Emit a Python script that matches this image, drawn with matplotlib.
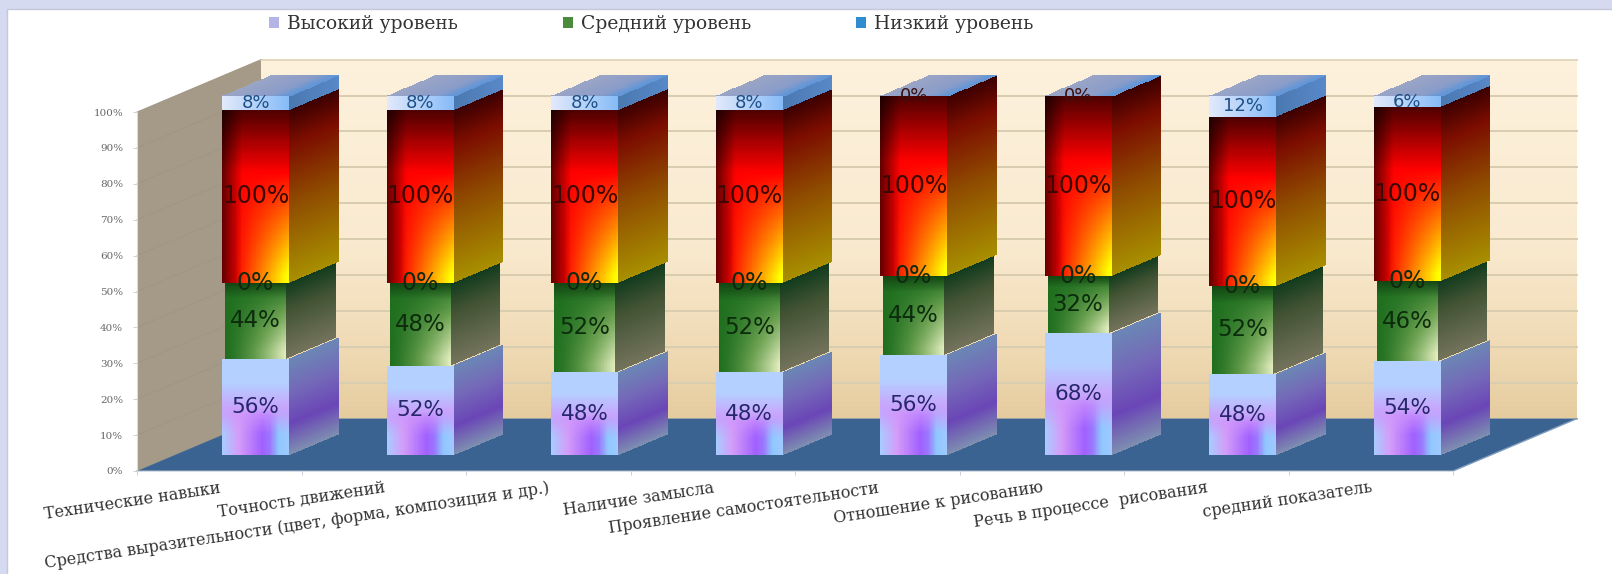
#!/usr/bin/env python3
import matplotlib
matplotlib.use("Agg")
import matplotlib.pyplot as plt
import numpy as np
from matplotlib.patches import Polygon, Rectangle

# chart data
categories = [
    "Технические навыки",
    "Точность движений",
    "Средства выразительности (цвет, форма, композиция и др.)",
    "Наличие замысла",
    "Проявление самостоятельности",
    "Отношение к рисованию",
    "Речь в процессе  рисования",
    "средний показатель",
]
high = [56, 52, 48, 48, 56, 68, 48, 54]
middle = [44, 48, 52, 52, 44, 32, 52, 46]
low = [0, 0, 0, 0, 0, 0, 0, 0]
red_part = [100, 100, 100, 100, 100, 100, 100, 100]
top_part = [8, 8, 8, 8, 0, 0, 12, 6]
legend_names = ["Высокий уровень", "Средний уровень", "Низкий уровень"]
y_ticks = [0, 10, 20, 30, 40, 50, 60, 70, 80, 90, 100]

W, H = 1612, 574
X0_PX, Y0_PX = 137, 471
CAT_PX, PCT_PX = 164.5, 3.59
DX, DY = 124 / CAT_PX, 52.4 / PCT_PX  # shift of the back wall in data units

BAR_LEFT, BAR_W = 0.292, 0.406
D_FRONT, D_BACK = 0.3, 0.7


def rgb(hexes):
    return np.array([matplotlib.colors.to_rgb(h) for h in hexes])


def ramp(t, stops, hexes):
    cols = rgb(hexes)
    return np.dstack([np.interp(t, stops, cols[:, k]) for k in range(3)])


def red_front(u, v):
    light = np.clip(0.3 + v / 0.36 * 0.7, 0, 1) * np.clip(0.38 + u / 0.3 * 0.62, 0, 1)
    g = np.clip((u - 0.2) / 0.8, 0, 1) * np.clip((v - 0.36) / 0.6, 0, 1)
    return np.dstack([light, np.clip(g * 1.05, 0, 1), np.zeros_like(u)])


def red_side(u, v):
    return ramp(v, [0, 0.2, 0.55, 1], ["#3a0000", "#7c0d00", "#8f4c00", "#a88f00"])


def green_front(u, v):
    t = np.clip(u, 0, 1) ** 1.4 * np.clip(v * 1.1, 0, 1) ** 1.0
    out = ramp(t, [0, 0.4, 1], ["#1f6f1f", "#6aa050", "#e4eec0"])
    return out * (0.62 + 0.38 * np.clip(v / 0.2, 0, 1))[..., None]


def green_side(u, v):
    return ramp(v, [0, 0.35, 1], ["#0f3a1c", "#3f5232", "#74735c"])


def purple_front(u, v):
    t = np.clip((v - 0.25) / 0.35, 0, 1)
    top = ramp(t, [0, 1], ["#b4d0ff", "#cf95fb"])
    stripes = ramp(u, [0, 0.25, 0.6, 0.72, 0.85, 1],
                   ["#a8ccff", "#d49cf8", "#a060ff", "#9a78ff", "#90c8ff", "#a0c8ff"])
    w = np.clip((v - 0.5) / 0.28, 0, 1)[..., None]
    return top * (1 - w) + stripes * w


def purple_side(u, v):
    return ramp(v, [0, 0.35, 0.68, 1], ["#6b87b5", "#7468b8", "#6a46b6", "#7e8fb0"])


def blue_front(u, v):
    return ramp(u, [0, 1], ["#e2e9fb", "#86bbf7"])


def blue_side(u, v):
    return ramp(u, [0, 1], ["#4a78b0", "#5888c8"])


def cap_top(u, v):
    return ramp(u, [0, 0.7, 1], ["#9aa5c6", "#8a9cc8", "#5f96d8"])


def wall_back(u, v):
    return ramp(v, [0, 0.5, 0.8, 1], ["#fdf1dc", "#f9ead0", "#efdab4", "#e5cb9e"])


def mesh(ax, x0, x1, y0, y1, d0, d1, shade, z, n=80):
    """Paint one face of the oblique box, shade(u, v) gives its colours."""
    uu, vv = np.meshgrid(np.linspace(0, 1, n + 1), np.linspace(0, 1, n + 1))
    x = x0 + (x1 - x0) * uu + (d0 + (d1 - d0) * uu) * DX
    y = y1 + (y0 - y1) * vv + (d0 + (d1 - d0) * uu) * DY
    uc, vc = np.meshgrid((np.arange(n) + 0.5) / n, (np.arange(n) + 0.5) / n)
    ax.pcolormesh(x, y, shade(uc, vc), shading="flat", zorder=z,
                  antialiased=False, linewidth=0, edgecolors="none")


def box(ax, x0, x1, y0, y1, front, side, z):
    if y1 <= y0:
        return
    mesh(ax, x0, x1, y0, y1, D_FRONT, D_FRONT, front, z)
    mesh(ax, x1, x1, y0, y1, D_FRONT, D_BACK, side, z)


fig = plt.figure(figsize=(W / 100, H / 100), dpi=100, facecolor="#d6daf0")
fig.patches.append(Rectangle((7 / W, -0.01), 1, 1.01 - 9 / H, transform=fig.transFigure,
                             facecolor="white", edgecolor="#c4c8d8", linewidth=1, zorder=-1))

ax = fig.add_axes([0, 0, 1, 1])
ax.patch.set_alpha(0)

# back wall, left wall and floor
mesh(ax, 0, 8, 0, 100, 1, 1, wall_back, 1, n=60)
wall_x = [0, DX, DX, 0]
wall_y = [0, DY, 100 + DY, 100]
ax.add_patch(Polygon(list(zip(wall_x, wall_y)), facecolor="#a59a87", edgecolor="none", zorder=1.1))
floor = [(0, 0), (8, 0), (8 + DX, DY), (DX, DY)]
ax.add_patch(Polygon(floor, facecolor="#3a6392", edgecolor="none", zorder=1.3))
ax.plot([0, 8, 8 + DX], [0, 0, DY], color="#7f9dbd", lw=1, zorder=1.35)

for t in y_ticks:
    ax.plot([DX, 8 + DX], [t + DY, t + DY], color="#e2d7bc" if t == 100 else "#d9cdb0", lw=1.4, zorder=1.2)
    ax.plot([0, DX], [t, t + DY], color="#9f9582", lw=0.6, zorder=1.2)

# bars, every column stacked to 100 %
for i in range(len(categories)):
    parts = [high[i], middle[i], low[i], red_part[i], top_part[i]]
    total = sum(parts)
    edges = np.cumsum([0] + parts) / total * 100
    x0, x1 = i + BAR_LEFT, i + BAR_LEFT + BAR_W
    inset = 0.018
    z = 3 + i * 0.1

    box(ax, x0 + inset, x1 - inset, edges[1], edges[2], green_front, green_side, z)
    box(ax, x0, x1, edges[0], edges[1], purple_front, purple_side, z + 0.01)
    box(ax, x0, x1, edges[3], edges[4], red_front, red_side, z + 0.02)
    box(ax, x0, x1, edges[4], edges[5], blue_front, blue_side, z + 0.03)
    # lid of the column
    uu, vv = np.meshgrid(np.linspace(0, 1, 25), np.linspace(0, 1, 13))
    lx = x0 + BAR_W * uu + (D_FRONT + (D_BACK - D_FRONT) * vv) * DX
    ly = 100 + (D_FRONT + (D_BACK - D_FRONT) * vv) * DY
    uc, vc = np.meshgrid((np.arange(24) + 0.5) / 24, (np.arange(12) + 0.5) / 12)
    ax.pcolormesh(lx, ly, cap_top(uc, vc), shading="flat", zorder=z + 0.03,
                  antialiased=False, linewidth=0, edgecolors="none")

    cx = (x0 + x1) / 2 + D_FRONT * DX
    label_style = [(15.5, "#26266a"), (16.5, "#0c2c0c"), (17, "#0f2a0f"), (17, "#3a0800"), (13, "#1c4f86")]
    for k, (val, (fs, col)) in enumerate(zip(parts, label_style)):
        if k == 4 and val == 0:
            col = "#3a1010"
        cy = (edges[k] + edges[k + 1]) / 2 + D_FRONT * DY
        ax.text(cx, cy, f"{val}%", ha="center", va="center", fontsize=fs, color=col,
                family="DejaVu Sans", zorder=20)

ax.set_xlim(-X0_PX / CAT_PX, (W - X0_PX) / CAT_PX)
ax.set_ylim((Y0_PX - H) / PCT_PX, Y0_PX / PCT_PX)

for s in ("top", "right"):
    ax.spines[s].set_visible(False)
for s in ("left", "bottom"):
    ax.spines[s].set_position(("data", 0))
    ax.spines[s].set_color("#d9dbe2")
    ax.spines[s].set_zorder(1.4)
ax.spines["left"].set_bounds(0, 100)
ax.spines["bottom"].set_bounds(0, 8)

ax.set_yticks(y_ticks)
ax.set_yticklabels([f"{t}%" for t in y_ticks], family="DejaVu Serif", fontsize=7.5, color="#666666")
ax.tick_params(axis="y", length=3, width=0.7, color="#d0d0d0", pad=7)

ax.set_xticks(np.arange(len(categories)) + 0.5)
ax.set_xticklabels(categories, rotation=8.5, ha="right", va="top", rotation_mode="anchor",
                   family="DejaVu Serif", fontsize=11.5, color="#333333")
ax.set_xticks(np.arange(len(categories) + 1), minor=True)
ax.tick_params(axis="x", which="major", length=0, pad=6)
ax.tick_params(axis="x", which="minor", length=3, width=0.7, color="#c8d0dc")

handles = [Rectangle((0, 0), 1, 1, facecolor=c) for c in ("#b4b4e6", "#4c8a3c", "#2f8ccf")]
fig.legend(handles, legend_names, ncol=3, loc="upper left", bbox_to_anchor=(256 / W, 1 - 2 / H),
           frameon=False, handlelength=0.55, handleheight=0.55, handletextpad=0.4,
           columnspacing=5.6, borderpad=0.2,
           prop={"family": "DejaVu Serif", "size": 13.5}, labelcolor="#333333")

fig.savefig("out.png", dpi=100)
